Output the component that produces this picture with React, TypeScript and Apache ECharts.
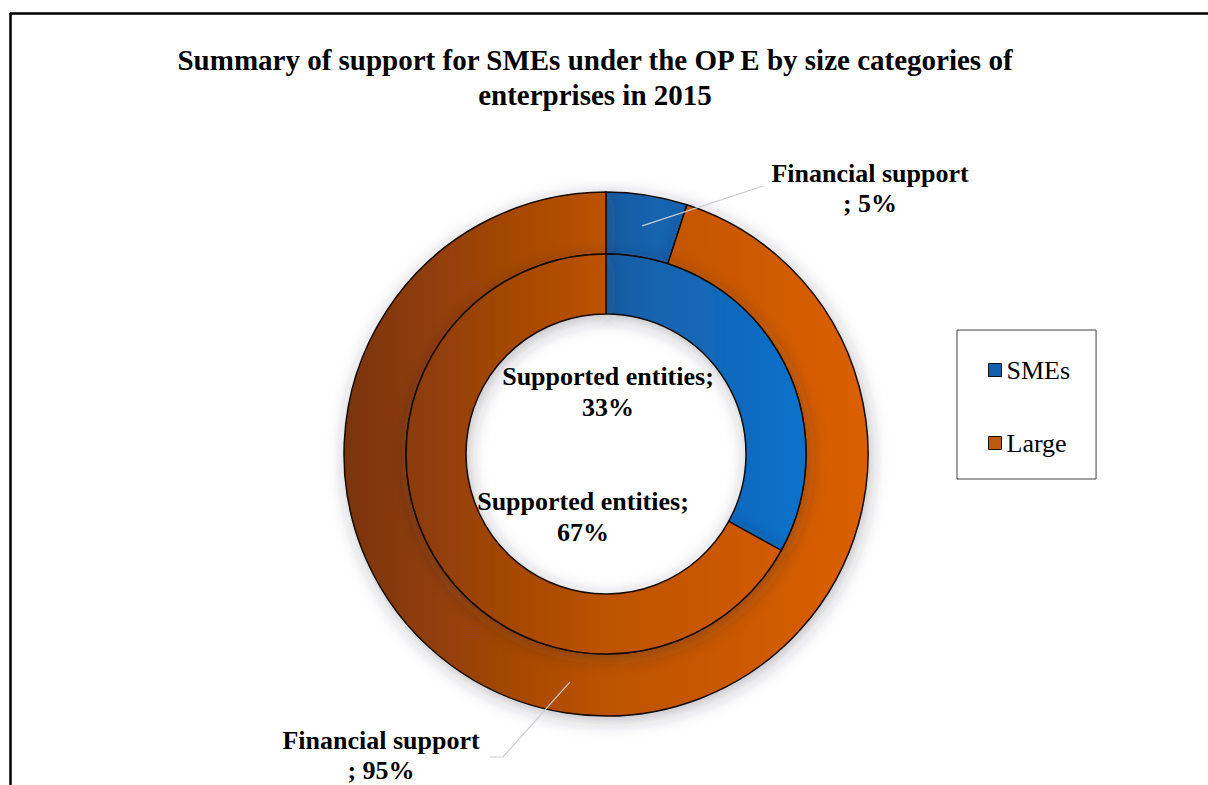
import React, { useEffect, useRef } from 'react';
import * as echarts from 'echarts';

// ---- data ----
const TITLE_LINES = [
  'Summary of support for SMEs under the OP E by size categories of',
  'enterprises in 2015',
];
const categories = ['SMEs', 'Large'];
const ringNames = ['Financial support', 'Supported entities'];
const financialSupport = [5, 95]; // outer ring, %
const supportedEntities = [33, 67]; // inner ring, %

// ---- layout / style ----
const CX = 606;
const CY = 454;
const OUTER_R = [200, 262];
const INNER_R = [140, 200];
const FONT = '"Liberation Serif", "Times New Roman", serif';

const outerLabelPos = [
  { x: 870, y: 188, line: [[763, 186]] },
  { x: 381, y: 755, line: [[503, 757], [490, 757]] },
];
const innerLabelPos = [
  { x: 608, y: 392 },
  { x: 583, y: 517 },
];

const grad = (stops: string[]) => ({
  type: 'linear',
  x: CX - OUTER_R[1],
  y: 0,
  x2: CX + OUTER_R[1],
  y2: 0,
  global: true,
  colorStops: stops.map((c, i) => ({ offset: i / (stops.length - 1), color: c })),
});

const COLORS = [
  grad(['#123E6C', '#1A5EA4', '#0677D8']),
  grad(['#7A3309', '#BC5304', '#DB5F00']),
];
const LEGEND_COLORS = ['#1560AE', '#BD5A12'];

function midPoint(values: number[], i: number, r: number): number[] {
  const total = values.reduce((a, b) => a + b, 0);
  let before = 0;
  for (let k = 0; k < i; k++) before += values[k];
  const a = ((before + values[i] / 2) / total) * Math.PI * 2;
  return [CX + r * Math.sin(a), CY - r * Math.cos(a)];
}

const itemBase = {
  borderColor: '#140800',
  borderWidth: 1.5,
  shadowBlur: 18,
  shadowColor: 'rgba(40,40,60,0.32)',
  shadowOffsetX: 2,
  shadowOffsetY: 4,
};

const labelText = {
  fontFamily: FONT,
  fontWeight: 'bold' as const,
  fontSize: 26,
  lineHeight: 30,
  color: '#000',
};

export default function App() {
  const ref = useRef<HTMLDivElement>(null);
  useEffect(() => {
    if (!ref.current) return;
    const chart = echarts.init(ref.current, null, { renderer: 'svg' });
    const option: any = {
      animation: false,
      backgroundColor: '#fff',
      title: {
        text: TITLE_LINES.join('\n'),
        left: 595,
        top: 42,
        textAlign: 'center',
        padding: 0,
        textStyle: {
          fontFamily: FONT,
          fontWeight: 'bold',
          fontSize: 29,
          lineHeight: 35,
          color: '#000',
        },
      },
      legend: {
        orient: 'vertical',
        left: 957,
        top: 330,
        padding: [27, 26, 23, 31],
        itemWidth: 13,
        itemHeight: 13,
        itemGap: 47,
        icon: 'rect',
        borderColor: '#404040',
        borderWidth: 1,
        selectedMode: false,
        textStyle: { fontFamily: FONT, fontSize: 26, lineHeight: 26, color: '#000' },
        data: categories.map((c, i) => ({
          name: c,
          itemStyle: { color: LEGEND_COLORS[i], borderColor: '#111', borderWidth: 1 },
        })),
      },
      graphic: [
        {
          type: 'line',
          shape: { x1: 10, y1: 13.5, x2: 1208, y2: 13.5 },
          style: { stroke: '#000', lineWidth: 2.5 },
        },
        {
          type: 'line',
          shape: { x1: 10.5, y1: 13, x2: 10.5, y2: 785 },
          style: { stroke: '#000', lineWidth: 2.5 },
        },
      ],
      series: [
        {
          name: ringNames[0],
          type: 'pie',
          center: [CX, CY],
          radius: OUTER_R,
          startAngle: 90,
          clockwise: true,
          avoidLabelOverlap: false,
          itemStyle: itemBase,
          label: { show: false },
          labelLine: { show: false },
          data: categories.map((c, i) => ({
            name: c,
            value: financialSupport[i],
            itemStyle: { color: COLORS[i] },
          })),
        },
        {
          name: ringNames[1],
          type: 'pie',
          center: [CX, CY],
          radius: INNER_R,
          startAngle: 90,
          clockwise: true,
          avoidLabelOverlap: false,
          itemStyle: itemBase,
          label: {
            show: true,
            position: 'inside',
            formatter: '{a};\n{c}%',
            ...labelText,
            lineHeight: 31,
          },
          labelLine: { show: false },
          labelLayout: (p: any) => {
            const pos = innerLabelPos[p.dataIndex];
            return { x: pos.x, y: pos.y, align: 'center', verticalAlign: 'middle' };
          },
          data: categories.map((c, i) => ({
            name: c,
            value: supportedEntities[i],
            itemStyle: { color: COLORS[i] },
          })),
        },
        {
          // transparent overlay of the outer ring carrying its labels & leader lines on top
          name: ringNames[0],
          type: 'pie',
          z: 5,
          silent: true,
          center: [CX, CY],
          radius: OUTER_R,
          startAngle: 90,
          clockwise: true,
          avoidLabelOverlap: false,
          itemStyle: { color: 'rgba(0,0,0,0)', borderWidth: 0 },
          label: {
            show: true,
            position: 'outside',
            formatter: '{a}\n; {c}%',
            ...labelText,
          },
          labelLine: { show: true, lineStyle: { color: '#C9CDD3', width: 1.2 } },
          labelLayout: (p: any) => {
            const pos = outerLabelPos[p.dataIndex];
            const start = midPoint(financialSupport, p.dataIndex, (OUTER_R[0] + OUTER_R[1]) / 2);
            return {
              x: pos.x,
              y: pos.y,
              align: 'center',
              verticalAlign: 'middle',
              labelLinePoints: [start, ...pos.line],
            };
          },
          data: categories.map((c, i) => ({
            name: c,
            value: financialSupport[i],
          })),
        },
      ],
    };
    chart.setOption(option);
    return () => chart.dispose();
  }, []);
  return (
    <div
      ref={ref}
      style={{ position: 'absolute', left: 0, top: 0, width: 1208, height: 785, background: '#fff' }}
    />
  );
}
